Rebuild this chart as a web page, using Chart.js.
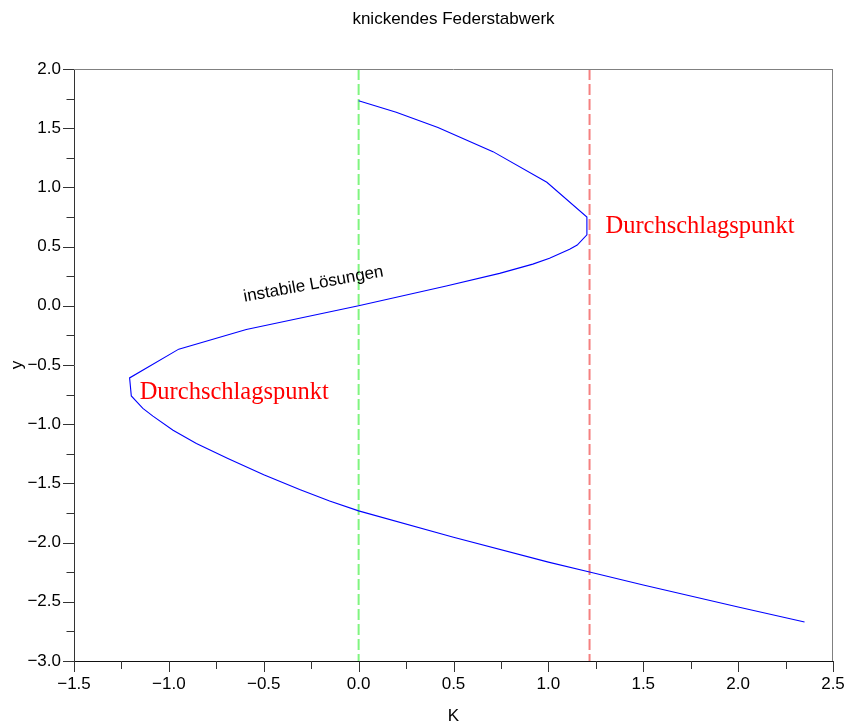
<!DOCTYPE html>
<html>
<head>
<meta charset="utf-8">
<script src="https://cdn.jsdelivr.net/npm/chart.js@4/dist/chart.umd.min.js"></script>
<style>
  html, body { margin: 0; padding: 0; background: #fff; }
  #wrap { width: 847px; height: 727px; }
</style>
</head>
<body>
<div id="wrap"><canvas id="c" width="847" height="727"></canvas></div>
<script>
// ---- data ----
const curveK = [0, 0.198, 0.418, 0.708, 0.992, 1.203, 1.203, 1.152, 1.112, 1.006, 0.918, 0.743, 0.462, 0,
  -0.592, -0.948, -1.207, -1.198, -1.137, -1.084, -0.978, -0.855, -0.689, -0.5, -0.311, -0.153, 0,
  0.5, 1.0, 1.217, 1.5, 2.0, 2.35];
const curveY = [1.732, 1.635, 1.505, 1.302, 1.043, 0.750, 0.600, 0.513, 0.477, 0.401, 0.352, 0.274, 0.167, 0,
  -0.200, -0.366, -0.609, -0.761, -0.867, -0.932, -1.051, -1.163, -1.290, -1.427, -1.552, -1.649, -1.732,
  -1.955, -2.165, -2.249, -2.358, -2.544, -2.671];
const greenLineK = [0, 0];
const greenLineY = [2, -3];
const redLineK = [1.217, 1.217];
const redLineY = [2, -3];
const annotationTexts = ["Durchschlagspunkt", "Durchschlagspunkt", "instabile Lösungen"];
const annotationK = [1.301, -1.154, -0.601];
const annotationY = [0.615, -0.783, 0.034];

const titleText = "knickendes Federstabwerk";
const xTitle = "K";
const yTitle = "y";

// ---- helpers ----
const toPts = (xs, ys) => xs.map((v, i) => ({ x: v, y: ys[i] }));
const isMajor = v => Math.abs(v * 2 - Math.round(v * 2)) < 1e-7;
const fmt = v => {
  const s = (Math.round(v * 10) / 10).toFixed(1);
  return s.replace('-', '\u2212');
};

const annotationStyles = [
  { font: '24.5px "Liberation Serif"', color: '#ff0000', rot: 0 },
  { font: '24.5px "Liberation Serif"', color: '#ff0000', rot: 0 },
  { font: '17px "Liberation Sans"', color: '#000000', rot: -10.4 }
];

const framePlugin = {
  id: 'frame',
  afterDatasetsDraw(chart) {
    const { ctx, scales: { x, y } } = chart;
    ctx.save();
    annotationTexts.forEach((t, i) => {
      const st = annotationStyles[i];
      const px = x.getPixelForValue(annotationK[i]);
      const py = y.getPixelForValue(annotationY[i]);
      ctx.save();
      ctx.translate(px, py);
      ctx.rotate(st.rot * Math.PI / 180);
      ctx.font = st.font;
      ctx.fillStyle = st.color;
      ctx.textAlign = 'left';
      ctx.textBaseline = 'alphabetic';
      ctx.fillText(t, 0, 0);
      ctx.restore();
    });
    ctx.restore();
  },
  afterDraw(chart) {
    const { ctx, chartArea: { left, right, top, bottom }, scales: { x, y } } = chart;
    ctx.save();
    ctx.lineWidth = 1;
    ctx.strokeStyle = '#808080';
    ctx.beginPath();
    ctx.moveTo(left, top + 0.5); ctx.lineTo(right, top + 0.5);
    ctx.moveTo(right - 0.5, top); ctx.lineTo(right - 0.5, bottom);
    ctx.stroke();
    ctx.strokeStyle = '#333333';
    ctx.beginPath();
    x.ticks.forEach(t => {
      const px = Math.round(x.getPixelForValue(t.value)) + 0.5;
      ctx.moveTo(px, bottom);
      ctx.lineTo(px, bottom + (isMajor(t.value) ? 11 : 8));
    });
    y.ticks.forEach(t => {
      const py = Math.round(y.getPixelForValue(t.value)) + 0.5;
      ctx.moveTo(left, py);
      ctx.lineTo(left - (isMajor(t.value) ? 11 : 7.5), py);
    });
    ctx.stroke();
    ctx.restore();
  }
};

new Chart(document.getElementById('c'), {
  type: 'scatter',
  data: {
    datasets: [
      {
        data: toPts(greenLineK, greenLineY), showLine: true, pointRadius: 0,
        borderColor: 'rgb(128,245,128)', borderWidth: 2, borderDash: [11, 4], order: 3
      },
      {
        data: toPts(redLineK, redLineY), showLine: true, pointRadius: 0,
        borderColor: 'rgb(245,128,128)', borderWidth: 2, borderDash: [11, 4], order: 2
      },
      {
        data: toPts(curveK, curveY), showLine: true, pointRadius: 0,
        borderColor: '#0000ff', borderWidth: 1.1, tension: 0, order: 1
      }
    ]
  },
  options: {
    responsive: false,
    animation: false,
    devicePixelRatio: 1,
    layout: { padding: { left: 0, right: 14, top: 0, bottom: 0 } },
    plugins: {
      legend: { display: false },
      tooltip: { enabled: false },
      title: {
        display: true, text: titleText, color: '#000', fullSize: false,
        font: { family: 'Liberation Sans', size: 17, weight: 'normal', lineHeight: 1.2 },
        padding: { top: 9.5, bottom: 39.1 }
      }
    },
    scales: {
      x: {
        type: 'linear', min: -1.5, max: 2.5,
        afterFit: s => { s.height = 66; s.paddingLeft = 0; s.paddingRight = 0; },
        grid: { display: true, drawOnChartArea: false, drawTicks: false },
        border: { display: true, color: '#111', width: 1 },
        ticks: {
          stepSize: 0.25, autoSkip: false, maxRotation: 0, minRotation: 0, padding: 13,
          color: '#000', font: { family: 'Liberation Sans', size: 17 },
          callback: v => isMajor(v) ? fmt(v) : ''
        },
        title: {
          display: true, text: xTitle, color: '#000',
          font: { family: 'Liberation Sans', size: 17 }, padding: { top: 0, bottom: 0 }
        }
      },
      y: {
        type: 'linear', min: -3, max: 2,
        afterFit: s => { s.width = 74; s.paddingTop = 0; s.paddingBottom = 0; },
        grid: { display: true, drawOnChartArea: false, drawTicks: false },
        border: { display: true, color: '#333', width: 1 },
        ticks: {
          stepSize: 0.25, autoSkip: false, padding: 13,
          color: '#000', font: { family: 'Liberation Sans', size: 17 },
          callback: v => isMajor(v) ? fmt(v) : ''
        },
        title: {
          display: true, text: yTitle, color: '#000',
          font: { family: 'Liberation Sans', size: 17 }, padding: { top: 7, bottom: 0 }
        }
      }
    }
  },
  plugins: [framePlugin]
});
</script>
</body>
</html>
